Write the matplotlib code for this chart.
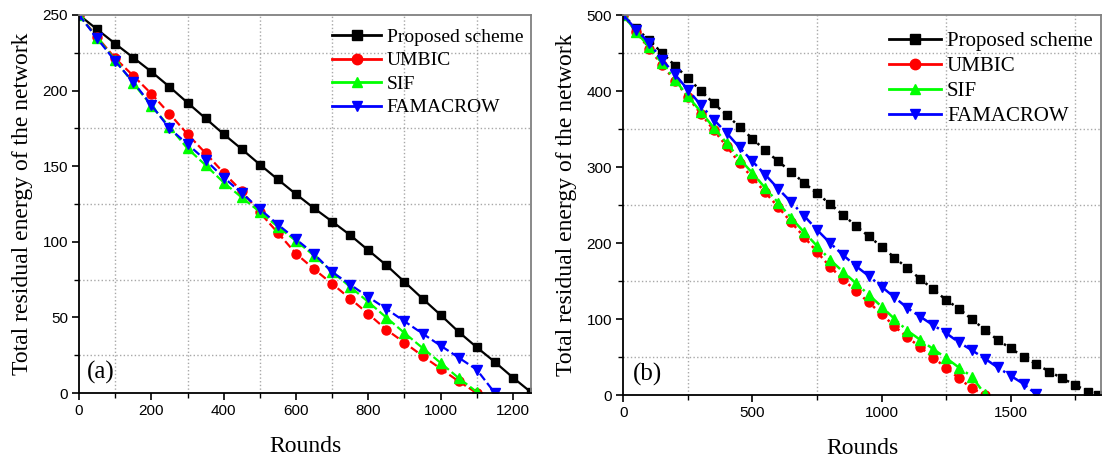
import matplotlib
matplotlib.use("Agg")
import matplotlib.pyplot as plt
from matplotlib.ticker import MultipleLocator
from matplotlib.lines import Line2D

# (a) residual energy vs rounds, initial energy 250
rounds_a_black = list(range(0, 1251, 50))
black_a = [250, 240.5, 231, 221.8, 212.5, 202.5, 192, 181.6, 171.2, 161.3, 151.1,
           141.2, 131.5, 122.2, 113.4, 104.4, 94.4, 84.5, 73.5, 62.4, 51.6, 40.4,
           30.2, 20.5, 10.2, 0.5]
rounds_a_red = list(range(0, 1101, 50))
red_a = [250, 235.5, 221.3, 209.8, 197.9, 184.7, 171.2, 158.6, 145.6, 133.5, 119.4,
         105.9, 92.2, 81.9, 72.2, 62.4, 52.3, 41.9, 33.3, 24.5, 16.1, 7.7, 0]
rounds_a_green = list(range(0, 1101, 50))
green_a = [250, 235, 220.2, 204.8, 190, 176, 161.7, 150.7, 139.2, 129.3, 119.8,
           109.9, 100.6, 90.9, 80.1, 70.2, 60.2, 49.9, 39.7, 29.8, 19.9, 9.9, 0.7]
rounds_a_blue = list(range(0, 1151, 50))
blue_a = [250, 234.5, 219.5, 205.6, 190.4, 175, 164.6, 154, 142.5, 132.2, 121.6,
          111.4, 101.7, 92, 80, 71.7, 63.5, 55.6, 47.4, 39.3, 31.3, 23.4, 15.4, 0]

# (b) residual energy vs rounds, initial energy 500
rounds_b_black = list(range(0, 1801, 50)) + [1840]
black_b = [500, 482.9, 467, 450.4, 433.7, 417, 400.7, 384, 368.6, 353.3, 337.4,
           322, 307.6, 293.9, 279.4, 265.4, 251.8, 237.3, 223.2, 209.1, 195.5,
           181, 167, 152.9, 139.3, 125.2, 113.8, 99.7, 86.1, 72.5, 61.5, 50.5,
           40.5, 31, 22, 13.3, 4.5, 0.5]
rounds_b_red = list(range(0, 1401, 50))
red_b = [500, 478, 456, 434.5, 413.8, 392, 370.4, 348.9, 327.4, 305.4, 286, 266.7,
         247.4, 227.6, 208.3, 188.5, 169.2, 152.5, 137.5, 122, 107, 90.5, 76.2,
         63, 49.4, 36, 22.1, 8.9, 0]
rounds_b_green = list(range(0, 1401, 50))
green_b = [500, 478.5, 457.8, 436.7, 415.2, 393.2, 373, 352, 331.8, 311, 292.2,
           272.4, 253, 233.3, 214.4, 196.4, 178.4, 162.6, 147.5, 132.2, 116.5,
           100.3, 84.8, 72.7, 60.6, 48.8, 36.2, 24.3, 1.2]
rounds_b_blue = list(range(0, 1601, 50))
blue_b = [500, 481, 463.5, 441.6, 422, 402, 381.8, 362.5, 345, 326, 307.6, 290,
          271.5, 254, 236, 217.5, 200.4, 184.6, 170, 156.9, 142.7, 128.7, 114.7,
          103.2, 92, 81.5, 69.4, 59, 48, 36.4, 25.4, 14.8, 0.8]

names = ["Proposed scheme", "UMBIC", "SIF", "FAMACROW"]
colors = ["#000000", "#ff0000", "#00ff00", "#0000ff"]
markers = ["s", "o", "^", "v"]
msizes = [6, 6.5, 6.5, 6.5]

SERIF = "Liberation Serif"
SANS = "Liberation Sans"


def style_axes(ax, xmax, ymax, xmaj, xmin_, ymaj, ymin_):
    ax.set_xlim(0, xmax)
    ax.set_ylim(0, ymax)
    ax.xaxis.set_major_locator(MultipleLocator(xmaj))
    ax.xaxis.set_minor_locator(MultipleLocator(xmin_))
    ax.yaxis.set_major_locator(MultipleLocator(ymaj))
    ax.yaxis.set_minor_locator(MultipleLocator(ymin_))
    ax.tick_params(which="major", direction="out", length=5, width=1.2,
                   labelsize=11, pad=3)
    ax.tick_params(which="minor", direction="out", length=3.5, width=1.0)
    for lab in ax.get_xticklabels() + ax.get_yticklabels():
        lab.set_fontfamily(SANS)
    ax.grid(which="minor", linestyle=":", color="#a8a8a8", linewidth=1.0)
    ax.grid(which="major", visible=False)
    ax.spines["left"].set_linewidth(1.3)
    ax.spines["bottom"].set_linewidth(1.3)
    ax.spines["top"].set_color("#808080")
    ax.spines["right"].set_color("#808080")
    ax.spines["top"].set_linewidth(1.3)
    ax.spines["right"].set_linewidth(1.3)
    ax.set_xlabel("Rounds", fontfamily=SERIF, fontsize=17, labelpad=13)
    ax.set_ylabel("Total residual energy of the network", fontfamily=SERIF,
                  fontsize=17, labelpad=7)


fig = plt.figure(figsize=(11.04, 4.61), dpi=100)
ax1 = fig.add_axes([0.0716, 0.1475, 0.4094, 0.82])
ax2 = fig.add_axes([0.5646, 0.143, 0.4327, 0.824])

data_a = [(rounds_a_black, black_a), (rounds_a_red, red_a),
          (rounds_a_green, green_a), (rounds_a_blue, blue_a)]
styles_a = ["-", "--", "--", "--"]
for (x, y), c, m, ms, ls, name in zip(data_a, colors, markers, msizes, styles_a, names):
    ax1.plot(x, y, color=c, marker=m, markersize=ms, linestyle=ls, linewidth=1.6,
             markeredgecolor=c, label=name)

data_b = [(rounds_b_black, black_b), (rounds_b_red, red_b),
          (rounds_b_green, green_b), (rounds_b_blue, blue_b)]
styles_b = [":", ":", "-.", "-."]
for (x, y), c, m, ms, ls, name in zip(data_b, colors, markers, msizes, styles_b, names):
    ax2.plot(x, y, color=c, marker=m, markersize=ms, linestyle=ls, linewidth=1.8,
             markeredgecolor=c, label=name)

style_axes(ax1, 1250, 250, 200, 100, 50, 25)
style_axes(ax2, 1850, 500, 500, 250, 100, 50)

handles = [Line2D([], [], color=c, marker=m, markersize=ms + 1, linewidth=2,
                  markeredgecolor=c) for c, m, ms in zip(colors, markers, msizes)]

ax1.legend(handles, names, loc="upper right", bbox_to_anchor=(1.0, 0.985),
           frameon=False, prop={"family": SERIF, "size": 14},
           handlelength=2.5, handletextpad=0.3, labelspacing=0.3,
           borderaxespad=0.0)
ax2.legend(handles, names, loc="upper right", bbox_to_anchor=(1.0, 0.978),
           frameon=False, prop={"family": SERIF, "size": 15},
           handlelength=2.5, handletextpad=0.3, labelspacing=0.25,
           borderaxespad=0.0)

ax1.text(0.018, 0.055, "(a)", transform=ax1.transAxes, fontfamily=SERIF,
         fontsize=18, ha="left", va="center")
ax2.text(0.021, 0.055, "(b)", transform=ax2.transAxes, fontfamily=SERIF,
         fontsize=18, ha="left", va="center")

fig.savefig("out.png", dpi=100)
